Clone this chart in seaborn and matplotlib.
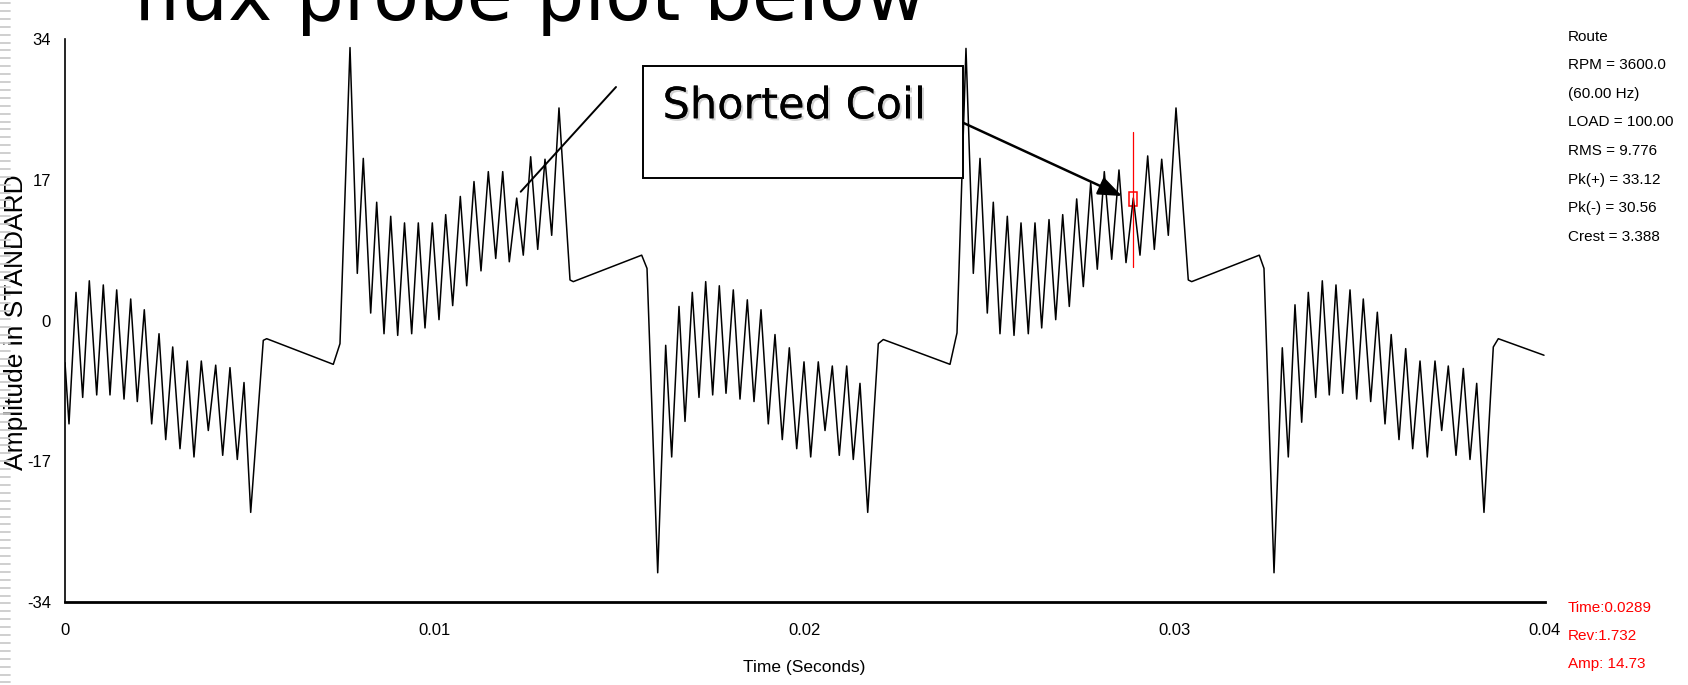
import numpy as np
import pandas as pd
import matplotlib
matplotlib.use("Agg")
import matplotlib.pyplot as plt
import matplotlib.patheffects as pe
from matplotlib.patches import Rectangle
from matplotlib.lines import Line2D
import seaborn as sns

# ---------------- data ----------------
time_s = [
    0.0, 0.000108, 0.000297, 0.000478, 0.000657, 0.000857, 0.001035, 0.001216,
    0.001397, 0.001595, 0.001776, 0.001954, 0.002143, 0.002343, 0.002541, 0.002722,
    0.002911, 0.003108, 0.003305, 0.003486, 0.003684, 0.003873, 0.004073, 0.004262,
    0.004459, 0.004657, 0.004838, 0.005019, 0.005359, 0.005451, 0.007251, 0.007432,
    0.007703, 0.007900, 0.008062, 0.008262, 0.008424, 0.008622, 0.008803, 0.008992,
    0.009176, 0.009370, 0.009549, 0.009730, 0.009927, 0.010108, 0.010289, 0.010478,
    0.010684, 0.010857, 0.011054, 0.011243, 0.011441, 0.011641, 0.011830, 0.012008,
    0.012208, 0.012386, 0.012586, 0.012776, 0.012973, 0.013154, 0.013351, 0.013649,
    0.013738, 0.015586, 0.015730, 0.016019, 0.016235, 0.016397, 0.016595, 0.016757,
    0.016954, 0.017135, 0.017316, 0.017505, 0.017684, 0.017865, 0.018062, 0.018243,
    0.018441, 0.018622, 0.018811, 0.019008, 0.019189, 0.019386, 0.019576, 0.019776,
    0.019973, 0.020154, 0.020359, 0.020541, 0.020738, 0.020927, 0.021127, 0.021305,
    0.021486, 0.021695, 0.021981, 0.022116, 0.023919, 0.024108, 0.024351, 0.024549,
    0.024730, 0.024927, 0.025089, 0.025270, 0.025468, 0.025649, 0.025838, 0.026035,
    0.026216, 0.026397, 0.026595, 0.026776, 0.026965, 0.027143, 0.027343, 0.027522,
    0.027722, 0.027900, 0.028089, 0.028289, 0.028486, 0.028676, 0.028873, 0.029054,
    0.029262, 0.029441, 0.029641, 0.029819, 0.030027, 0.030359, 0.030451, 0.032278,
    0.032405, 0.032676, 0.032900, 0.033062, 0.033243, 0.033424, 0.033603, 0.033803,
    0.033981, 0.034170, 0.034351, 0.034532, 0.034730, 0.034911, 0.035089, 0.035289,
    0.035468, 0.035676, 0.035843, 0.036054, 0.036235, 0.036424, 0.036622, 0.036819,
    0.037027, 0.037208, 0.037386, 0.037595, 0.037792, 0.037973, 0.038154, 0.038351,
    0.038603, 0.038738, 0.039973,
]
amplitude = [
    -5.1, -12.5, 3.4, -9.3, 4.8, -9.0, 4.3, -9.0,
    3.7, -9.5, 2.6, -9.8, 1.3, -12.5, -1.6, -14.4,
    -3.2, -15.5, -4.9, -16.5, -4.9, -13.3, -5.4, -16.3,
    -5.7, -16.8, -7.5, -23.2, -2.4, -2.2, -5.3, -2.8,
    33.0, 5.7, 19.6, 0.9, 14.3, -1.6, 12.6, -1.8,
    11.8, -1.6, 11.8, -0.9, 11.8, 0.1, 12.8, 1.8,
    15.0, 4.2, 16.8, 6.0, 18.0, 7.5, 18.0, 7.1,
    14.8, 7.9, 19.8, 8.6, 19.5, 10.3, 25.7, 4.9,
    4.7, 7.9, 6.3, -30.5, -3.0, -16.5, 1.7, -12.2,
    3.4, -9.3, 4.7, -9.0, 4.2, -8.8, 3.7, -9.5,
    2.5, -9.8, 1.3, -12.5, -1.7, -14.4, -3.3, -15.5,
    -5.0, -16.5, -5.0, -13.3, -5.5, -16.3, -5.5, -16.8,
    -7.6, -23.2, -2.8, -2.3, -5.3, -1.5, 32.9, 5.7,
    19.6, 0.9, 14.3, -1.6, 12.6, -1.8, 11.8, -1.6,
    11.8, -0.9, 12.2, 0.1, 12.8, 1.7, 14.7, 4.1,
    16.7, 6.2, 18.0, 7.4, 18.2, 7.0, 14.8, 7.9,
    19.9, 8.6, 19.5, 10.3, 25.7, 4.9, 4.7, 7.9,
    6.3, -30.5, -3.3, -16.5, 1.9, -12.3, 3.4, -9.3,
    4.8, -9.0, 4.3, -8.8, 3.7, -9.5, 2.6, -9.8,
    1.0, -12.5, -1.7, -14.4, -3.4, -15.5, -4.9, -16.5,
    -4.9, -13.3, -5.5, -16.3, -5.8, -16.8, -7.6, -23.2,
    -3.2, -2.2, -4.2,
]

y_ticks = [-34, -17, 0, 17, 34]
y_tick_labels = ["-34", "-17", "0", "17", "34"]
x_ticks = [0, 0.01, 0.02, 0.03, 0.04]
x_tick_labels = ["0", "0.01", "0.02", "0.03", "0.04"]

info_lines = ["Route", "RPM = 3600.0", "(60.00 Hz)", "LOAD = 100.00",
              "RMS = 9.776", "Pk(+) = 33.12", "Pk(-) = 30.56", "Crest = 3.388"]
cursor_lines = ["Time:0.0289", "Rev:1.732", "Amp: 14.73"]
cursor_time = 0.02887
cursor_amp = 14.73

# ---------------- style ----------------
sns.set_style("white")
plt.rcParams["font.family"] = ["DejaVu Sans"]
plt.rcParams["axes.unicode_minus"] = False
narrow = ["Liberation Sans Narrow", "Liberation Sans", "DejaVu Sans"]

W, H = 1688, 685
fig = plt.figure(figsize=(W / 100, H / 100), dpi=100)
fig.patch.set_facecolor("white")

ax = fig.add_axes([65 / W, 1 - 601.7 / H, 1480 / W, 562.4 / H])
df = pd.DataFrame({"Time (Seconds)": time_s, "Amplitude": amplitude})
sns.lineplot(data=df, x="Time (Seconds)", y="Amplitude", ax=ax, color="black",
             lw=1.1, estimator=None, sort=False)

ax.set_xlim(0, 0.04)
ax.set_ylim(-34, 34)
ax.set_xticks(x_ticks)
ax.set_xticklabels(x_tick_labels)
ax.set_yticks(y_ticks)
ax.set_yticklabels(y_tick_labels)
ax.spines["top"].set_visible(False)
ax.spines["right"].set_visible(False)
ax.spines["left"].set_linewidth(1.2)
ax.spines["bottom"].set_linewidth(2.0)
ax.spines["left"].set_color("black")
ax.spines["bottom"].set_color("black")
ax.tick_params(axis="x", length=12, width=1, direction="out", pad=3, color="black")
ax.tick_params(axis="y", length=7, width=1, direction="out", pad=3, color="black")
for lab in ax.get_xticklabels() + ax.get_yticklabels():
    lab.set_family(narrow)
    lab.set_fontsize(12)
    lab.set_color("black")

ax.set_xlabel("Time (Seconds)", family=narrow, fontsize=12.5, color="black")
ax.xaxis.set_label_coords((804.5 - 65) / 1480, -(672 - 601.7) / 562.4)
ax.xaxis.label.set_va("baseline")
ax.set_ylabel("Amplitude in STANDARD", family=["Liberation Sans", "DejaVu Sans"],
              fontsize=19, color="black")
ax.yaxis.set_label_coords(-(65 - 28) / 1480, (601.7 - 322) / 562.4)

# ---------------- annotations ----------------
# red cursor
ax.plot([cursor_time, cursor_time], [6.5, 22.8], color="red", lw=0.9)
ax.add_patch(Rectangle((0.028757, 13.8), 0.000216, 1.7, fill=False,
                       edgecolor="red", lw=1.1))

# "Shorted Coil" box
ax.add_patch(Rectangle((0.015614, 17.26), 0.024278 - 0.015614, 30.77 - 17.26,
                       facecolor="white", edgecolor="black", lw=1.4,
                       clip_on=False, zorder=5))
ax.text(0.016150, 24.45, "Shorted Coil", fontsize=31, family="DejaVu Sans",
        ha="left", va="baseline", color="black", zorder=6, clip_on=False,
        path_effects=[pe.withSimplePatchShadow(offset=(1.5, -1.5),
                                               shadow_rgbFace="gray", alpha=0.35),
                      pe.Normal()])
ax.plot([0.014892, 0.012316], [28.23, 15.57], color="black", lw=1.4,
        clip_on=False, zorder=6)
ax.annotate("", xy=(0.028568, 15.05), xytext=(0.024278, 23.9),
            arrowprops=dict(arrowstyle="-|>,head_length=0.9,head_width=0.35",
                            color="black", lw=1.8, mutation_scale=16,
                            shrinkA=0, shrinkB=0),
            zorder=6)

# ---------------- figure texts ----------------
fig.text(133 / W, 1 - 20 / H, "flux probe plot below", fontsize=54,
         family="DejaVu Sans", ha="left", va="baseline", color="black")

for i, line in enumerate(info_lines):
    fig.text(1568 / W, 1 - (40.7 + 28.6 * i) / H, line, family=narrow,
             fontsize=11, ha="left", va="baseline", color="black")

for i, line in enumerate(cursor_lines):
    fig.text(1568 / W, 1 - (611.7 + 28.3 * i) / H, line, family=narrow,
             fontsize=11, ha="left", va="baseline", color="red")

# decorative dashed strip on the left edge of the slide
for yy in np.arange(3, H, 7.9):
    fig.add_artist(Line2D([0, 10 / W], [1 - yy / H, 1 - yy / H],
                          color="#cccccc", lw=1.3, transform=fig.transFigure))

fig.savefig("out.png", dpi=100, facecolor="white")
